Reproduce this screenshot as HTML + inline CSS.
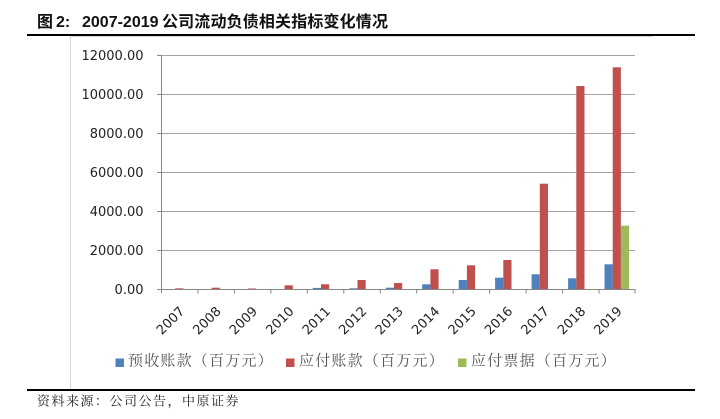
<!DOCTYPE html>
<html>
<head>
<meta charset="utf-8">
<style>
  html,body{margin:0;padding:0;background:#fff;}
  svg{display:block;}
</style>
</head>
<body>
<svg width="720" height="419" viewBox="0 0 720 419" xmlns="http://www.w3.org/2000/svg">
  <rect width="720" height="419" fill="#fff"/>
  <!-- Title -->
  <g font-family="'Liberation Sans','Noto Sans CJK SC',sans-serif" font-size="16" font-weight="bold" fill="#111">
    <text x="37" y="27">图</text>
    <text x="56" y="27">2:</text>
    <text x="82" y="27">2007-2019</text>
    <text x="162" y="27" letter-spacing="0.15">公司流动负债相关指标变化情况</text>
  </g>
  <!-- top rule -->
  <rect x="27" y="34" width="668" height="2" fill="#000"/>
  <line x1="70" y1="36.5" x2="653" y2="36.5" stroke="#d6d6d6" stroke-width="1"/>
  <line x1="70.5" y1="36" x2="70.5" y2="389" stroke="#d6d6d6" stroke-width="1"/>

  <!-- gridlines -->
  <g stroke="#a3a3a3" stroke-width="1">
    <line x1="161" y1="55.5" x2="635" y2="55.5"/>
    <line x1="161" y1="94.5" x2="635" y2="94.5"/>
    <line x1="161" y1="133.5" x2="635" y2="133.5"/>
    <line x1="161" y1="172.5" x2="635" y2="172.5"/>
    <line x1="161" y1="211.5" x2="635" y2="211.5"/>
    <line x1="161" y1="250.5" x2="635" y2="250.5"/>
  </g>
  <!-- y tick marks -->
  <g stroke="#8a8a8a" stroke-width="1">
    <line x1="157" y1="55.5" x2="161" y2="55.5"/>
    <line x1="157" y1="94.5" x2="161" y2="94.5"/>
    <line x1="157" y1="133.5" x2="161" y2="133.5"/>
    <line x1="157" y1="172.5" x2="161" y2="172.5"/>
    <line x1="157" y1="211.5" x2="161" y2="211.5"/>
    <line x1="157" y1="250.5" x2="161" y2="250.5"/>
    <line x1="157" y1="289.5" x2="161" y2="289.5"/>
  </g>
  <!-- y labels -->
  <g font-family="'DejaVu Sans','Liberation Sans',sans-serif" font-size="13" fill="#222" text-anchor="end">
    <text x="143.5" y="60">12000.00</text>
    <text x="143.5" y="99">10000.00</text>
    <text x="143.5" y="138">8000.00</text>
    <text x="143.5" y="177">6000.00</text>
    <text x="143.5" y="216">4000.00</text>
    <text x="143.5" y="255">2000.00</text>
    <text x="143.5" y="294">0.00</text>
  </g>

  <!-- bars -->
  <g fill="#4F81BD">
    <rect x="167.0" y="289.2" width="8.2" height="0.3"/>
    <rect x="203.5" y="289.2" width="8.2" height="0.3"/>
    <rect x="239.9" y="289.2" width="8.2" height="0.3"/>
    <rect x="276.4" y="289.2" width="8.2" height="0.3"/>
    <rect x="312.8" y="287.9" width="8.2" height="1.6"/>
    <rect x="349.3" y="288.3" width="8.2" height="1.2"/>
    <rect x="385.8" y="287.7" width="8.2" height="1.8"/>
    <rect x="422.2" y="284.3" width="8.2" height="5.2"/>
    <rect x="458.7" y="280.0" width="8.2" height="9.5"/>
    <rect x="495.1" y="277.7" width="8.2" height="11.8"/>
    <rect x="531.6" y="274.3" width="8.2" height="15.2"/>
    <rect x="568.1" y="278.3" width="8.2" height="11.2"/>
    <rect x="604.5" y="264.3" width="8.2" height="25.2"/>
  </g>
  <g fill="#C0504D">
    <rect x="175.2" y="288.0" width="8.2" height="1.5" fill="#d98a88"/>
    <rect x="211.7" y="287.7" width="8.2" height="1.8"/>
    <rect x="248.1" y="288.2" width="8.2" height="1.3" fill="#d98a88"/>
    <rect x="284.6" y="285.3" width="8.2" height="4.2"/>
    <rect x="321.0" y="284.3" width="8.2" height="5.2"/>
    <rect x="357.5" y="280.0" width="8.2" height="9.5"/>
    <rect x="394.0" y="283.0" width="8.2" height="6.5"/>
    <rect x="430.4" y="269.3" width="8.2" height="20.2"/>
    <rect x="466.9" y="265.3" width="8.2" height="24.2"/>
    <rect x="503.3" y="260.0" width="8.2" height="29.5"/>
    <rect x="539.8" y="183.7" width="8.2" height="105.8"/>
    <rect x="576.3" y="86.0" width="8.2" height="203.5"/>
    <rect x="612.7" y="67.3" width="8.2" height="222.2"/>
  </g>
  <rect x="620.9" y="225.7" width="8.2" height="63.8" fill="#9BBB59"/>

  <!-- axes -->
  <line x1="161.5" y1="55" x2="161.5" y2="293" stroke="#868686" stroke-width="1"/>
  <line x1="161" y1="289.5" x2="635.5" y2="289.5" stroke="#868686" stroke-width="1"/>
  <g stroke="#868686" stroke-width="1">
    <line x1="197.96" y1="289.5" x2="197.96" y2="293.5"/>
    <line x1="234.42" y1="289.5" x2="234.42" y2="293.5"/>
    <line x1="270.88" y1="289.5" x2="270.88" y2="293.5"/>
    <line x1="307.34" y1="289.5" x2="307.34" y2="293.5"/>
    <line x1="343.8" y1="289.5" x2="343.8" y2="293.5"/>
    <line x1="380.26" y1="289.5" x2="380.26" y2="293.5"/>
    <line x1="416.72" y1="289.5" x2="416.72" y2="293.5"/>
    <line x1="453.18" y1="289.5" x2="453.18" y2="293.5"/>
    <line x1="489.64" y1="289.5" x2="489.64" y2="293.5"/>
    <line x1="526.1" y1="289.5" x2="526.1" y2="293.5"/>
    <line x1="562.56" y1="289.5" x2="562.56" y2="293.5"/>
    <line x1="599.02" y1="289.5" x2="599.02" y2="293.5"/>
    <line x1="635.0" y1="289.5" x2="635.0" y2="293.5"/>
  </g>

  <!-- x labels -->
  <g font-family="'DejaVu Sans','Liberation Sans',sans-serif" font-size="13" fill="#222" text-anchor="end">
    <text transform="translate(185.2,312) rotate(-45)">2007</text>
    <text transform="translate(221.7,312) rotate(-45)">2008</text>
    <text transform="translate(258.1,312) rotate(-45)">2009</text>
    <text transform="translate(294.6,312) rotate(-45)">2010</text>
    <text transform="translate(331.1,312) rotate(-45)">2011</text>
    <text transform="translate(367.5,312) rotate(-45)">2012</text>
    <text transform="translate(404.0,312) rotate(-45)">2013</text>
    <text transform="translate(440.4,312) rotate(-45)">2014</text>
    <text transform="translate(476.9,312) rotate(-45)">2015</text>
    <text transform="translate(513.4,312) rotate(-45)">2016</text>
    <text transform="translate(549.8,312) rotate(-45)">2017</text>
    <text transform="translate(586.3,312) rotate(-45)">2018</text>
    <text transform="translate(622.7,312) rotate(-45)">2019</text>
  </g>

  <!-- legend -->
  <rect x="115.5" y="358.5" width="8.5" height="8.5" fill="#4F81BD"/>
  <rect x="286" y="358.5" width="8.5" height="8.5" fill="#C0504D"/>
  <rect x="458" y="358.5" width="8.5" height="8.5" fill="#9BBB59"/>
  <g font-family="'Liberation Serif','Noto Serif CJK SC',serif" font-size="15" fill="#555">
    <text x="128" y="365.5" letter-spacing="1.2">预收账款（百万元）</text>
    <text x="299" y="365.5" letter-spacing="1.2">应付账款（百万元）</text>
    <text x="471" y="365.5" letter-spacing="1.2">应付票据（百万元）</text>
  </g>

  <!-- bottom rule -->
  <rect x="27" y="389" width="668" height="2" fill="#000"/>
  <!-- footer -->
  <text x="37" y="405.5" font-family="'Liberation Serif','Noto Serif CJK SC',serif" font-size="13" letter-spacing="1.5" fill="#222">资料来源：公司公告，中原证券</text>
</svg>
</body>
</html>
